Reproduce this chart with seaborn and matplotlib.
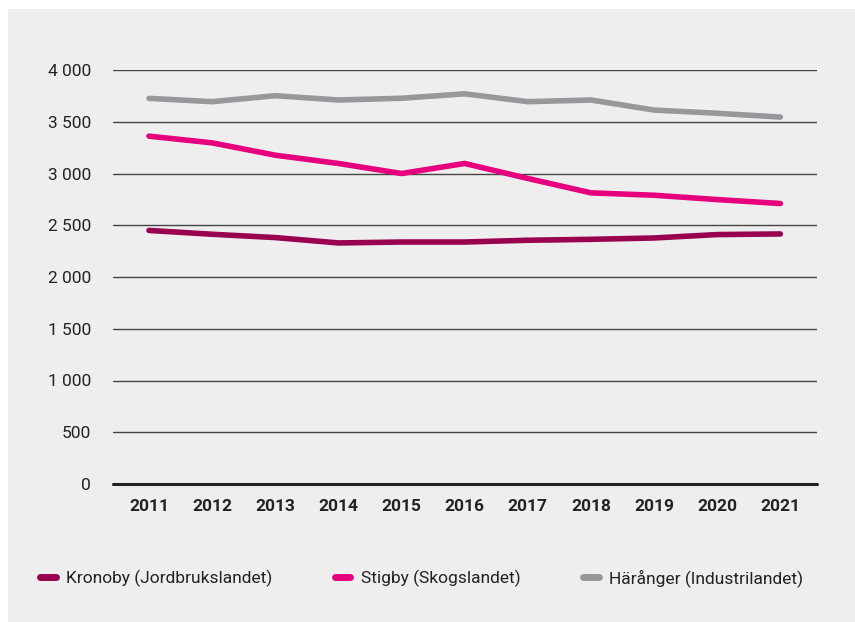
import matplotlib
matplotlib.use("Agg")
import matplotlib.pyplot as plt
from matplotlib import font_manager
from matplotlib.patches import Rectangle
from matplotlib.ticker import FuncFormatter
from matplotlib.lines import Line2D
import seaborn as sns
import pandas as pd

# Data
years = [2011, 2012, 2013, 2014, 2015, 2016, 2017, 2018, 2019, 2020, 2021]
kronoby = [2450, 2413, 2381, 2329, 2338, 2338, 2355, 2364, 2377, 2410, 2416]
stigby = [3361, 3296, 3177, 3097, 3000, 3097, 2952, 2813, 2790, 2748, 2710]
harange = [3726, 3694, 3752, 3710, 3727, 3770, 3694, 3710, 3613, 3582, 3545]

series_names = ["Kronoby (Jordbrukslandet)", "Stigby (Skogslandet)", "Härånger (Industrilandet)"]
colors = ["#990050", "#e6007e", "#97989c"]
y_ticks = [0, 500, 1000, 1500, 2000, 2500, 3000, 3500, 4000]

df = pd.DataFrame({
    "year": years * 3,
    "value": kronoby + stigby + harange,
    "serie": [series_names[0]] * 11 + [series_names[1]] * 11 + [series_names[2]] * 11,
})

sns.set_theme(style="white")
# smalt typsnitt om det finns
available = {f.name for f in font_manager.fontManager.ttflist}
family = "DejaVu Sans"
for cand in ["Liberation Sans Narrow", "Roboto", "Liberation Sans"]:
    if cand in available:
        family = cand
        break
plt.rcParams["font.family"] = [family, "DejaVu Sans"]

bg = "#eeeeee"
fig = plt.figure(figsize=(8.55, 6.22), dpi=100)
fig.patch.set_facecolor(bg)
# vit kant uppe och till vänster
fig.patches.append(Rectangle((0, 1 - 9 / 622), 1, 9 / 622, transform=fig.transFigure,
                             facecolor="white", edgecolor="none", zorder=-5))
fig.patches.append(Rectangle((0, 0), 8 / 855, 1, transform=fig.transFigure,
                             facecolor="white", edgecolor="none", zorder=-5))

ax = fig.add_axes([113 / 855, 1 - 484 / 622, 704 / 855, 414 / 622])
ax.set_facecolor(bg)

sns.lineplot(data=df, x="year", y="value", hue="serie", palette=colors,
             linewidth=4.0, ax=ax, legend=False, zorder=3)
for line in ax.lines:
    line.set_solid_capstyle("round")
    line.set_solid_joinstyle("round")
    line.set_clip_on(False)

ax.set_xlim(2010.43, 2021.58)
ax.set_ylim(0, 4000)
ax.set_xticks(years)
ax.set_yticks(y_ticks)
ax.yaxis.set_major_formatter(FuncFormatter(lambda v, p: f"{int(v):,}".replace(",", " ")))
for v in y_ticks[1:]:
    ax.axhline(v, color="#444444", linewidth=1.0, zorder=1)
ax.axhline(0, color="#222222", linewidth=2.2, zorder=2, clip_on=False)

for s in ax.spines.values():
    s.set_visible(False)
ax.tick_params(axis="both", length=0)
ax.tick_params(axis="y", pad=16, labelsize=12.5, labelcolor="#222222")
ax.tick_params(axis="x", pad=11, labelsize=12.5, labelcolor="#222222")
for lab in ax.get_xticklabels():
    lab.set_fontweight("bold")
ax.set_xlabel("")
ax.set_ylabel("")

handles = [Line2D([0], [0], color=c, linewidth=5, solid_capstyle="round") for c in colors]
fig.legend(handles, series_names, loc="center", bbox_to_anchor=(0.493, 0.071), ncol=3,
           frameon=False, fontsize=12.5, handlelength=0.9, handletextpad=0.6,
           columnspacing=3.6, labelcolor="#222222")

fig.savefig("out.png", dpi=100, facecolor=fig.get_facecolor())
